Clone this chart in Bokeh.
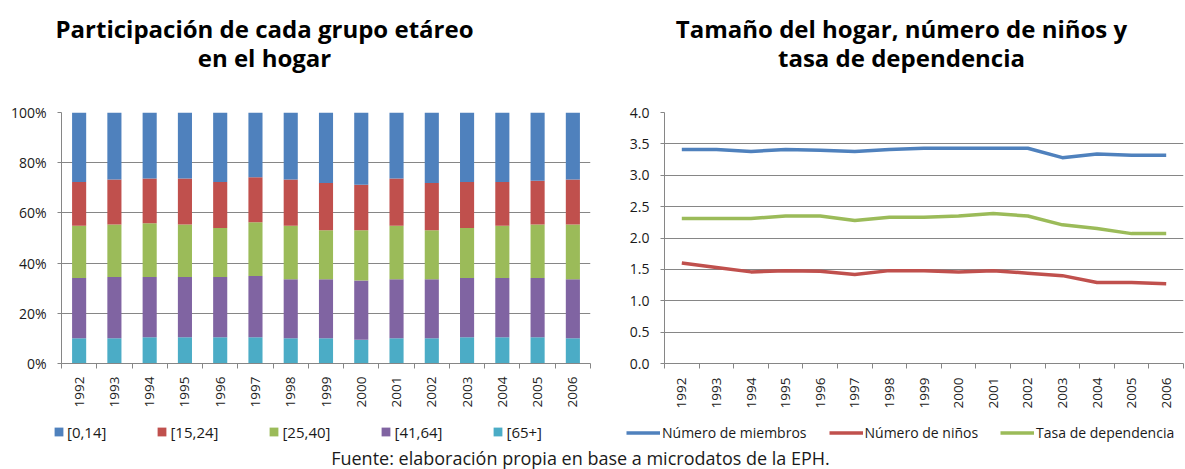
from bokeh.plotting import figure
from bokeh.models import (Range1d, FixedTicker, PrintfTickFormatter, Legend,
                          LegendItem, Label, ColumnDataSource)
from bokeh.layouts import column, row
from bokeh.embed import file_html
from bokeh.resources import INLINE

# ---------------- data ----------------
years = ["1992", "1993", "1994", "1995", "1996", "1997", "1998", "1999",
         "2000", "2001", "2002", "2003", "2004", "2005", "2006"]

age_groups = ["[0,14]", "[15,24]", "[25,40]", "[41,64]", "[65+]"]

share_0_14 = [27.7, 26.7, 26.3, 26.3, 27.7, 25.8, 26.7, 28.1, 28.8, 26.3, 28.1, 27.7, 27.7, 27.2, 26.7]
share_15_24 = [17.4, 17.9, 17.8, 18.3, 18.3, 17.9, 18.4, 18.8, 18.1, 18.8, 18.8, 18.3, 17.4, 17.4, 17.9]
share_25_40 = [20.8, 20.9, 21.4, 20.9, 19.5, 21.4, 21.3, 19.5, 20.0, 21.3, 19.5, 19.9, 20.8, 21.3, 21.8]
share_41_64 = [24.0, 24.4, 24.0, 24.0, 24.0, 24.4, 23.5, 23.5, 23.6, 23.5, 23.5, 23.6, 23.6, 23.6, 23.5]
share_65 = [10.1, 10.1, 10.5, 10.5, 10.5, 10.5, 10.1, 10.1, 9.5, 10.1, 10.1, 10.5, 10.5, 10.5, 10.1]

line_names = ["Número de miembros", "Número de niños", "Tasa de dependencia"]
miembros = [3.41, 3.41, 3.38, 3.41, 3.40, 3.38, 3.41, 3.43, 3.43, 3.43, 3.43, 3.28, 3.34, 3.32, 3.32]
ninos = [1.60, 1.53, 1.46, 1.48, 1.47, 1.42, 1.48, 1.48, 1.46, 1.48, 1.44, 1.40, 1.29, 1.29, 1.27]
dependencia = [2.31, 2.31, 2.31, 2.35, 2.35, 2.28, 2.33, 2.33, 2.35, 2.39, 2.35, 2.21, 2.15, 2.07, 2.07]

pct_ticks = [0, 20, 40, 60, 80, 100]
num_ticks = [0, 0.5, 1.0, 1.5, 2.0, 2.5, 3.0, 3.5, 4.0]

title_left = ["Participación de cada grupo etáreo", "en el hogar"]
title_right = ["Tamaño del hogar, número de niños y", "tasa de dependencia"]
caption = "Fuente: elaboración propia en base a microdatos de la EPH."

# ---------------- style ----------------
FONT = "Open Sans"
GRID = "#868686"
C_BLUE, C_RED, C_GREEN, C_PURPLE, C_AQUA = "#4F81BD", "#C0504D", "#9BBB59", "#8064A2", "#4BACC6"
BAR_COLORS = [C_AQUA, C_PURPLE, C_GREEN, C_RED, C_BLUE]
STACK = ["a65", "a41", "a25", "a15", "a0"]
LINE_COLORS = [C_BLUE, C_RED, C_GREEN]

xs = list(range(len(years)))
labels_map = {i: y for i, y in enumerate(years)}
minor = [i - 0.5 for i in range(len(years) + 1)]


def style_axes(p, yticks, yfmt, standoff):
    p.outline_line_color = None
    p.xgrid.visible = False
    p.ygrid.grid_line_color = GRID
    p.ygrid.grid_line_width = 1
    xa = p.xaxis[0]
    xa.ticker = FixedTicker(ticks=xs, minor_ticks=minor)
    xa.major_label_overrides = labels_map
    xa.major_label_orientation = 3.14159265 / 2
    xa.major_tick_out = 0
    xa.major_tick_in = 0
    xa.minor_tick_out = 5
    xa.minor_tick_in = 0
    xa.minor_tick_line_color = GRID
    xa.axis_line_color = GRID
    xa.major_label_text_font = FONT
    xa.major_label_text_font_size = "13.5px"
    xa.major_label_text_color = "#222222"
    xa.major_label_standoff = standoff
    ya = p.yaxis[0]
    ya.ticker = FixedTicker(ticks=yticks)
    ya.formatter = PrintfTickFormatter(format=yfmt)
    ya.major_tick_out = 4
    ya.major_tick_in = 0
    ya.minor_tick_out = 0
    ya.minor_tick_in = 0
    ya.major_tick_line_color = GRID
    ya.axis_line_color = GRID
    ya.major_label_text_font = FONT
    ya.major_label_text_font_size = "14px"
    ya.major_label_text_color = "#1a1a1a"
    ya.major_label_standoff = 11


def strip(width, height):
    s = figure(width=width, height=height, x_range=Range1d(-0.5, len(years) - 0.5),
               y_range=Range1d(0, 100), output_backend="svg", toolbar_location=None,
               title=None, x_axis_location=None, y_axis_location=None, min_border=0)
    s.outline_line_color = None
    s.grid.visible = False
    return s


src = ColumnDataSource(dict(x=xs, a0=share_0_14, a15=share_15_24, a25=share_25_40,
                            a41=share_41_64, a65=share_65))

# ---------------- titles strip ----------------
pt = strip(1185, 96)
for lines, cx in ((title_left, 264), (title_right, 901)):
    for t, yy in zip(lines, (68, 39)):
        pt.add_layout(Label(x=cx, y=yy, x_units="screen", y_units="screen", text=t,
                            text_font=FONT, text_font_size="24px", text_font_style="bold",
                            text_color="#000000", text_align="center", text_baseline="middle"))

# ---------------- left: stacked bars ----------------
p1 = figure(width=600, height=322, x_range=Range1d(-0.5, len(years) - 0.5),
            y_range=Range1d(0, 100), output_backend="svg", toolbar_location=None,
            title=None, min_border_left=61, min_border_right=10, min_border_top=16,
            min_border_bottom=51)
style_axes(p1, pct_ticks, "%d%%", 8)
p1.vbar_stack(STACK, x="x", width=0.4, source=src, fill_color=BAR_COLORS, line_color=None)

# ---------------- right: lines ----------------
p2 = figure(width=585, height=322, x_range=Range1d(-0.5, len(years) - 0.5),
            y_range=Range1d(0, 4), output_backend="svg", toolbar_location=None,
            title=None, min_border_left=64, min_border_right=2, min_border_top=16,
            min_border_bottom=55)
style_axes(p2, num_ticks, "%.1f", 9)
for ser, col in zip((miembros, ninos, dependencia), LINE_COLORS):
    p2.line(xs, ser, line_color=col, line_width=3.5, line_join="round")

# ---------------- legend strip (legend keys of both charts) ----------------
pl = strip(1185, 25)
prox = pl.vbar_stack(STACK, x="x", width=0.4, source=src, fill_color=BAR_COLORS,
                     line_color=None, visible=False)
prox_by_group = dict(zip(STACK, prox))
order = ["a0", "a15", "a25", "a41", "a65"]
leg1 = Legend(items=[LegendItem(label=g, renderers=[prox_by_group[k]])
                     for g, k in zip(age_groups, order)],
              orientation="horizontal", location=(53, 1.5), padding=0, margin=0,
              spacing=50, glyph_width=11, glyph_height=11, label_height=11,
              label_standoff=3, label_text_font=FONT, label_text_font_size="15px",
              label_text_color="#1a1a1a", border_line_color=None, background_fill_alpha=0,
              inactive_fill_alpha=0)
pl.add_layout(leg1, "center")

lprox = [pl.line(xs, ser, line_color=col, line_width=3.5, visible=False)
         for ser, col in zip((miembros, ninos, dependencia), LINE_COLORS)]
leg2 = Legend(items=[LegendItem(label=n, renderers=[r]) for n, r in zip(line_names, lprox)],
              orientation="horizontal", location=(626, 1.5), padding=0, margin=0,
              spacing=22, glyph_width=34, glyph_height=11, label_height=11,
              label_standoff=2, label_text_font=FONT, label_text_font_size="14px",
              label_text_color="#1a1a1a", border_line_color=None, background_fill_alpha=0,
              inactive_fill_alpha=0)
pl.add_layout(leg2, "center")

# ---------------- caption strip ----------------
pc = strip(1185, 26)
pc.add_layout(Label(x=580, y=12, x_units="screen", y_units="screen", text=caption,
                    text_font=FONT, text_font_size="18px", text_color="#1a1a1a",
                    text_align="center", text_baseline="middle"))

layout = column(pt, row(p1, p2), pl, pc)
open("out.html", "w").write(file_html(layout, INLINE))
